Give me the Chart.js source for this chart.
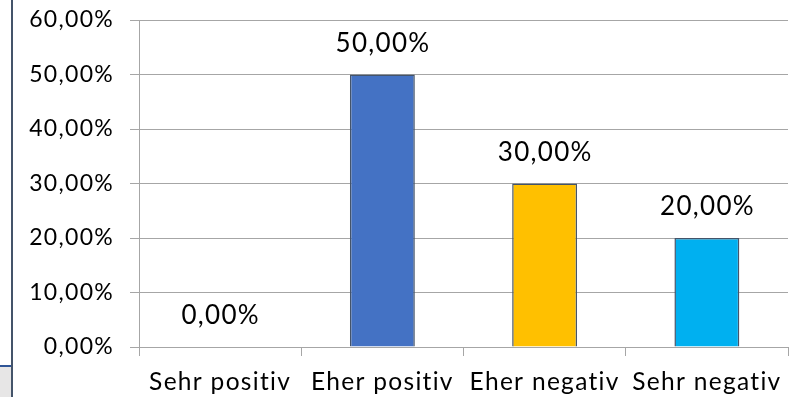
<!DOCTYPE html>
<html>
<head>
<meta charset="utf-8">
<script src="https://cdn.jsdelivr.net/npm/chart.js@4/dist/chart.umd.min.js"></script>
<style>
  html, body { margin: 0; padding: 0; background: #fff; overflow: hidden; }
  #wrap { position: relative; width: 808px; height: 397px; }
</style>
</head>
<body>
<div id="wrap"><canvas id="c" width="808" height="397"></canvas></div>
<script>
// Survey answer shares (percent)
const categories = ['Sehr positiv', 'Eher positiv', 'Eher negativ', 'Sehr negativ'];
const shares = [0, 50, 30, 20];
const barColors = ['#4472C4', '#4472C4', '#FFC000', '#00B0F0'];
const yTicks = [0, 10, 20, 30, 40, 50, 60];

const FONT = 'Lato';
const TRACKING = '1.3px';
const fmt = v => v.toFixed(2).replace('.', ',') + '%';

// Frame on the left edge of the sheet, plus loose text tracking for all labels
const framePlugin = {
  id: 'frame',
  beforeDraw(chart) {
    const ctx = chart.ctx;
    ctx.save();
    ctx.fillStyle = '#E7E6E6';
    ctx.fillRect(0, 367, 11, 30);
    ctx.fillStyle = '#2F5597';
    ctx.fillRect(0, 365, 11, 2);
    ctx.fillStyle = '#44546A';
    ctx.fillRect(11, 0, 2, 397);
    ctx.restore();
    ctx.letterSpacing = TRACKING;
  }
};

// Value labels above each bar
const valueLabels = {
  id: 'valueLabels',
  afterDatasetsDraw(chart) {
    const ctx = chart.ctx;
    const meta = chart.getDatasetMeta(0);
    ctx.save();
    ctx.font = `26px ${FONT}`;
    ctx.fillStyle = '#000';
    ctx.textAlign = 'center';
    ctx.textBaseline = 'alphabetic';
    meta.data.forEach((bar, i) => {
      ctx.fillText(fmt(shares[i]), bar.x + 0.6, bar.y - 23);
    });
    ctx.restore();
  }
};

new Chart(document.getElementById('c'), {
  type: 'bar',
  data: {
    labels: categories,
    datasets: [{
      data: shares,
      backgroundColor: barColors,
      borderColor: '#44546A',
      borderWidth: 1.5,
      barPercentage: 0.4,
      categoryPercentage: 1.0
    }]
  },
  options: {
    responsive: false,
    animation: false,
    devicePixelRatio: 1,
    layout: { padding: { top: 20, right: 20, bottom: 0, left: 0 } },
    plugins: { legend: { display: false }, tooltip: { enabled: false } },
    scales: {
      x: {
        offset: true,
        grid: { offset: true, drawOnChartArea: false, color: '#A6A6A6', tickLength: 9 },
        border: { color: '#A6A6A6', width: 1 },
        ticks: { color: '#000', font: { family: FONT, size: 24.5 }, padding: 11, maxRotation: 0, autoSkip: false },
        afterFit(scale) { scale.height = 50; }
      },
      y: {
        min: yTicks[0],
        max: yTicks[yTicks.length - 1],
        afterBuildTicks(scale) { scale.ticks = yTicks.map(v => ({ value: v })); },
        grid: { color: '#A6A6A6', tickLength: 9 },
        border: { color: '#A6A6A6', width: 1 },
        ticks: { color: '#000', font: { family: FONT, size: 23 }, padding: 16, callback: v => fmt(v) },
        afterFit(scale) {
          scale.width = 139;
          scale.paddingTop = 10;
          scale.paddingBottom = 10;
        }
      }
    }
  },
  plugins: [framePlugin, valueLabels]
});
</script>
</body>
</html>
